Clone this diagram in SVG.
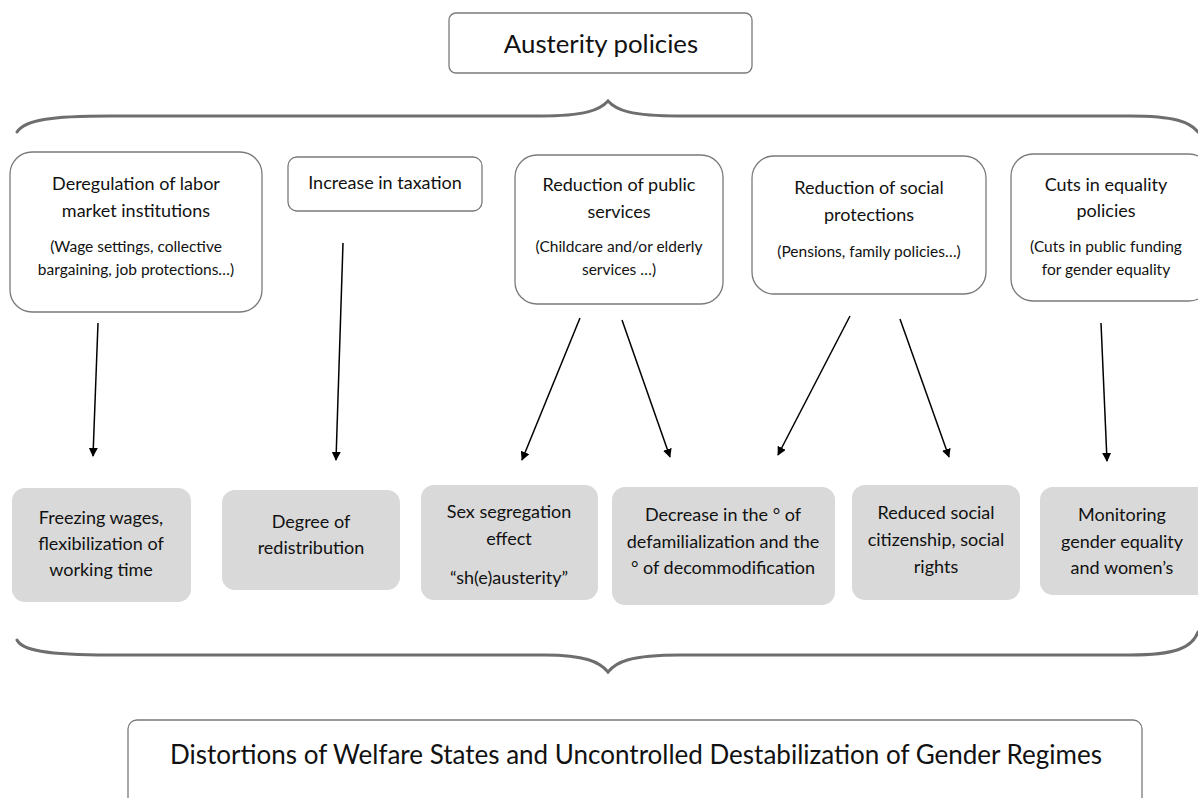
<svg xmlns="http://www.w3.org/2000/svg" width="1198" height="798" viewBox="0 0 1198 798">
<defs>
<marker id="ah" viewBox="0 0 10 10" refX="9" refY="5" markerWidth="9" markerHeight="9" markerUnits="userSpaceOnUse" orient="auto">
<path d="M0,0 L10,5 L0,10 z" fill="#000"/>
</marker>
<style>
.t{font-family:Lato,"Open Sans",sans-serif;fill:#111;text-anchor:middle}
.h{font-size:18px}
.s{font-size:15.5px}
.r{font-size:18px}
.wb{fill:#fff;stroke:#7a7a7a;stroke-width:1.3}
.gb{fill:#d9d9d9;stroke:none}
.br{fill:none;stroke:#6e6e6e;stroke-width:3;stroke-linecap:round}
.ar{fill:none;stroke:#000;stroke-width:1.5;marker-end:url(#ah)}
</style>
</defs>
<rect width="1198" height="798" fill="#fff"/>

<g id="austerity">
<rect class="wb" x="449" y="13" width="303" height="60" rx="7"/>
<text class="t" x="601" y="53" font-size="25.8">Austerity policies</text>
</g>

<g id="braces">
<path class="br" d="M17,132 C25,120 50,116 110,116 L540,116 C585,116 600,110 608,101 C616,110 630,116 680,116 L1130,116 C1175,116 1190,122 1198,132"/>
<path class="br" d="M17,640 C22,650 45,655 110,655 L545,655 C585,655 600,662 608,672 C616,662 630,655 680,655 L1130,655 C1175,655 1192,648 1198,632"/>
</g>

<g id="n-dereg">
<rect class="wb" x="10" y="152" width="252" height="160" rx="22"/>
<text class="t h" x="136" y="190">Deregulation of labor</text>
<text class="t h" x="136" y="217">market institutions</text>
<text class="t s" x="136" y="252">(Wage settings, collective</text>
<text class="t s" x="136" y="275">bargaining, job protections…)</text>
</g>

<g id="n-tax">
<rect class="wb" x="288" y="157" width="194" height="54" rx="9"/>
<text class="t h" x="385" y="189">Increase in taxation</text>
</g>

<g id="n-public">
<rect class="wb" x="515" y="155" width="208" height="149" rx="22"/>
<text class="t h" x="619" y="191">Reduction of public</text>
<text class="t h" x="619" y="218">services</text>
<text class="t s" x="619" y="252">(Childcare and/or elderly</text>
<text class="t s" x="619" y="275">services …)</text>
</g>

<g id="n-social">
<rect class="wb" x="752" y="156" width="234" height="138" rx="22"/>
<text class="t h" x="869" y="194">Reduction of social</text>
<text class="t h" x="869" y="221">protections</text>
<text class="t s" x="869" y="257">(Pensions, family policies…)</text>
</g>

<g id="n-equality">
<rect class="wb" x="1011" y="154" width="200" height="147" rx="22"/>
<text class="t h" x="1106" y="191">Cuts in equality</text>
<text class="t h" x="1106" y="217">policies</text>
<text class="t s" x="1106" y="252">(Cuts in public funding</text>
<text class="t s" x="1106" y="275">for gender equality</text>
</g>

<g id="connectors">
<line class="ar" x1="98" y1="323" x2="93" y2="456"/>
<line class="ar" x1="343" y1="243" x2="336" y2="460"/>
<line class="ar" x1="580" y1="318" x2="522" y2="460"/>
<line class="ar" x1="622" y1="320" x2="670" y2="457"/>
<line class="ar" x1="850" y1="316" x2="778" y2="455"/>
<line class="ar" x1="900" y1="319" x2="949" y2="457"/>
<line class="ar" x1="1101" y1="323" x2="1107" y2="461"/>
</g>

<g id="o-wages">
<rect class="gb" x="12" y="488" width="179" height="114" rx="13"/>
<text class="t r" x="101" y="524">Freezing wages,</text>
<text class="t r" x="101" y="550">flexibilization of</text>
<text class="t r" x="101" y="576">working time</text>
</g>

<g id="o-redist">
<rect class="gb" x="222" y="490" width="178" height="100" rx="13"/>
<text class="t r" x="311" y="528">Degree of</text>
<text class="t r" x="311" y="554">redistribution</text>
</g>

<g id="o-sex">
<rect class="gb" x="421" y="485" width="177" height="115" rx="13"/>
<text class="t r" x="509" y="518">Sex segregation</text>
<text class="t r" x="509" y="545">effect</text>
<text class="t r" x="509" y="584">“sh(e)austerity”</text>
</g>

<g id="o-defam">
<rect class="gb" x="612" y="487" width="223" height="118" rx="13"/>
<text class="t r" x="723" y="521">Decrease in the ° of</text>
<text class="t r" x="723" y="548">defamilialization and the</text>
<text class="t r" x="723" y="574">° of decommodification</text>
</g>

<g id="o-citizen">
<rect class="gb" x="852" y="485" width="168" height="115" rx="13"/>
<text class="t r" x="936" y="519">Reduced social</text>
<text class="t r" x="936" y="546">citizenship, social</text>
<text class="t r" x="936" y="573">rights</text>
</g>

<g id="o-monitor">
<rect class="gb" x="1040" y="487" width="170" height="108" rx="13"/>
<text class="t r" x="1122" y="521">Monitoring</text>
<text class="t r" x="1122" y="548">gender equality</text>
<text class="t r" x="1122" y="574">and women’s</text>
</g>

<g id="distortions">
<rect class="wb" x="128" y="720" width="1014" height="100" rx="9"/>
<text class="t" x="636" y="764" font-size="26">Distortions of Welfare States and Uncontrolled Destabilization of Gender Regimes</text>
</g>
</svg>
